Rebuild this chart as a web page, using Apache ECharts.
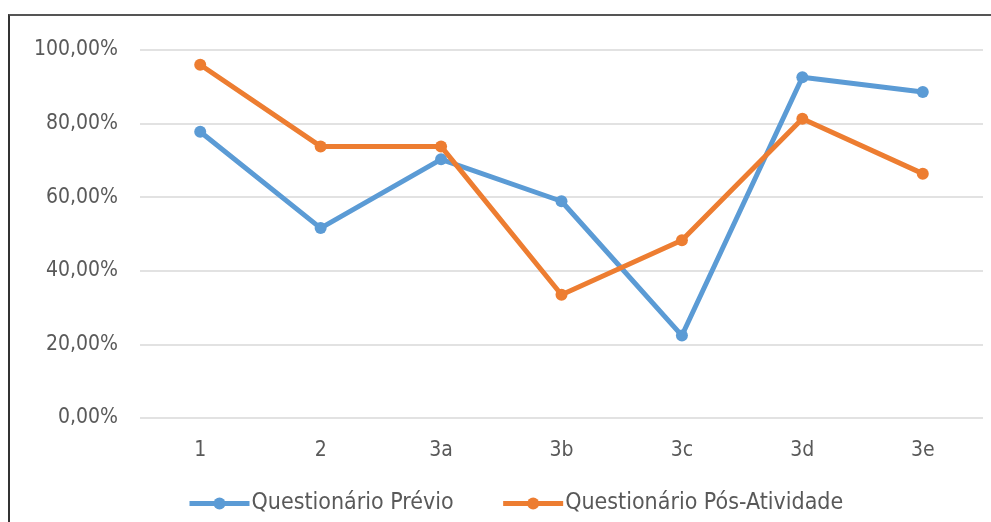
<!DOCTYPE html>
<html>
<head>
<meta charset="utf-8">
<script src="https://cdn.jsdelivr.net/npm/echarts@6/dist/echarts.min.js"></script>
<style>
  html, body { margin: 0; padding: 0; background: #ffffff; }
  #frame {
    position: absolute; left: 8px; top: 14px; width: 983px; height: 508px;
    border-left: 2px solid #333333; border-top: 2px solid #555555;
    box-sizing: border-box;
  }
  #chart { position: absolute; left: 0; top: 0; width: 991px; height: 522px; }
</style>
</head>
<body>
<div id="frame"></div>
<div id="chart"></div>
<script>
// Question labels along the horizontal axis
const questions = ['1', '2', '3a', '3b', '3c', '3d', '3e'];
// Share of correct answers (%) before the activity
const previo = [77.8, 51.6, 70.3, 58.9, 22.4, 92.6, 88.6];
// Share of correct answers (%) after the activity
const posAtividade = [96.0, 73.8, 73.8, 33.5, 48.3, 81.3, 66.4];
// Vertical axis ticks
const yTicks = [0, 20, 40, 60, 80, 100];

const FONT = '"DejaVu Sans Condensed", "Liberation Sans Narrow", "DejaVu Sans", sans-serif';
const TEXT = '#595959';
const fmtPct = v => v.toFixed(2).replace('.', ',') + '%';

const chart = echarts.init(document.getElementById('chart'), null, { renderer: 'canvas' });
chart.setOption({
  animation: false,
  backgroundColor: 'transparent',
  color: ['#5B9BD5', '#ED7D31'],
  grid: { left: 140, right: 8, top: 50, bottom: 104, containLabel: false },
  legend: {
    top: 487,
    left: 182,
    itemWidth: 60,
    itemHeight: 15,
    itemGap: 47,
    lineStyle: { width: 5 },
    textStyle: { color: TEXT, fontFamily: FONT, fontSize: 23, padding: [0, 0, 0, -3] },
    data: ['Questionário Prévio', 'Questionário Pós-Atividade']
  },
  xAxis: {
    type: 'category',
    data: questions,
    boundaryGap: true,
    axisLine: { show: false },
    axisTick: { show: false },
    axisLabel: { color: TEXT, fontFamily: FONT, fontSize: 21, margin: 22 }
  },
  yAxis: {
    type: 'value',
    min: yTicks[0],
    max: yTicks[yTicks.length - 1],
    interval: yTicks[1] - yTicks[0],
    axisLine: { show: false },
    axisTick: { show: false },
    splitLine: { lineStyle: { color: '#D9D9D9', width: 1.5 } },
    axisLabel: { color: TEXT, fontFamily: FONT, fontSize: 21, margin: 22, formatter: fmtPct }
  },
  series: [
    {
      name: 'Questionário Prévio',
      type: 'line',
      data: previo,
      symbol: 'circle',
      symbolSize: 12,
      lineStyle: { width: 5 },
      z: 2
    },
    {
      name: 'Questionário Pós-Atividade',
      type: 'line',
      data: posAtividade,
      symbol: 'circle',
      symbolSize: 12,
      lineStyle: { width: 5 },
      z: 3
    }
  ]
});
</script>
</body>
</html>
